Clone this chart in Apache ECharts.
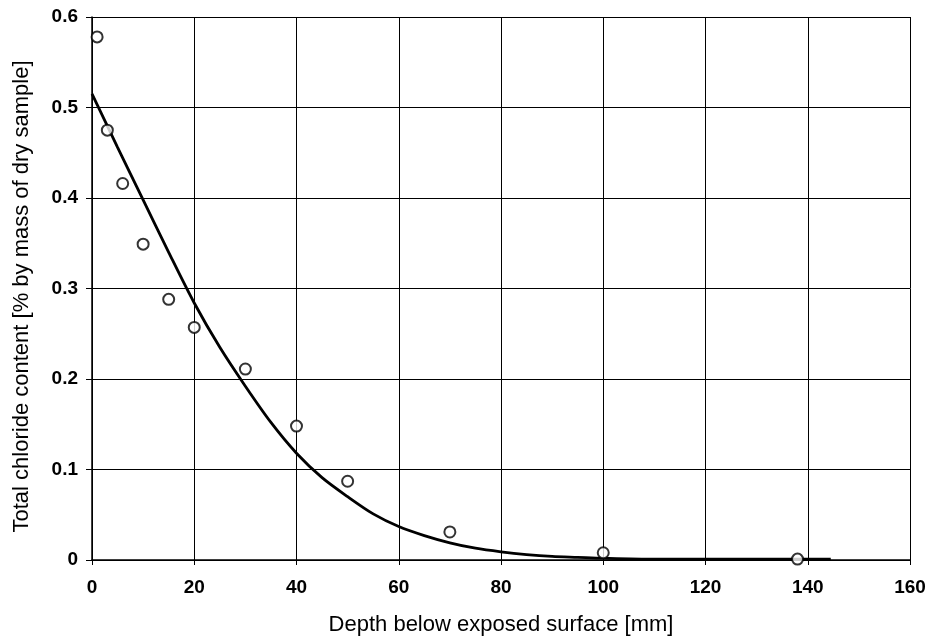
<!DOCTYPE html>
<html>
<head>
<meta charset="utf-8">
<script src="https://cdn.jsdelivr.net/npm/echarts@6/dist/echarts.min.js"></script>
<style>
html,body{margin:0;padding:0;background:#fff;}
#c{width:934px;height:641px;}
</style>
</head>
<body>
<div id="c"></div>
<script>
// Measured points: depth [mm] and total chloride content [%]
var depthMeasured = [1, 3, 6, 10, 15, 20, 30, 40, 50, 70, 100, 138];
var chlorideMeasured = [0.578, 0.475, 0.416, 0.349, 0.288, 0.257, 0.211, 0.148, 0.087, 0.031, 0.008, 0.001];

// Fitted curve
var depthFit = [0, 5, 10, 15, 20, 25, 30, 35, 40, 45, 50, 55, 60, 65, 70, 75, 80, 85, 90, 95, 100, 110, 120, 130, 144.5];
var chlorideFit = [0.515, 0.456, 0.398, 0.340, 0.284, 0.235, 0.192, 0.152, 0.118, 0.091, 0.070, 0.051, 0.037, 0.027, 0.019, 0.013, 0.009, 0.006, 0.004, 0.003, 0.002, 0.001, 0.001, 0.001, 0.001];

var xTicks = [0, 20, 40, 60, 80, 100, 120, 140, 160];
var yTicks = [0, 0.1, 0.2, 0.3, 0.4, 0.5, 0.6];

function zip(a, b) { return a.map(function (v, i) { return [v, b[i]]; }); }

var chart = echarts.init(document.getElementById('c'), null, {renderer: 'canvas'});
var font = 'Liberation Sans, Arial, Helvetica, sans-serif';
chart.setOption({
  animation: false,
  backgroundColor: '#fff',
  grid: {left: 92, right: 24, top: 17, bottom: 81, containLabel: false},
  xAxis: {
    type: 'value',
    min: xTicks[0], max: xTicks[xTicks.length - 1], interval: 20,
    name: 'Depth below exposed surface [mm]',
    nameLocation: 'middle',
    nameGap: 54,
    nameTextStyle: {color: '#000', fontFamily: font, fontSize: 22},
    axisLine: {show: true, onZero: false, lineStyle: {color: '#000', width: 1.5}},
    axisTick: {show: true, inside: false, length: 5, lineStyle: {color: '#000', width: 1}},
    axisLabel: {color: '#000', fontFamily: font, fontSize: 19, fontWeight: 'bold', margin: 18},
    splitLine: {show: true, lineStyle: {color: '#000', width: 1}}
  },
  yAxis: {
    type: 'value',
    min: yTicks[0], max: yTicks[yTicks.length - 1], interval: 0.1,
    name: 'Total chloride content [% by mass of dry sample]',
    nameLocation: 'middle',
    nameGap: 59,
    nameTextStyle: {color: '#000', fontFamily: font, fontSize: 22, padding: [0, 16, 0, 0]},
    axisLine: {show: true, lineStyle: {color: '#000', width: 1.5}},
    axisTick: {show: true, inside: false, length: 6, lineStyle: {color: '#000', width: 1}},
    axisLabel: {color: '#000', fontFamily: font, fontSize: 19, fontWeight: 'bold', margin: 14},
    splitLine: {show: true, lineStyle: {color: '#000', width: 1}}
  },
  series: [
    {
      type: 'line',
      data: zip(depthFit, chlorideFit),
      smooth: 0.3,
      showSymbol: false,
      lineStyle: {color: '#000', width: 2.8},
      z: 3
    },
    {
      type: 'scatter',
      data: zip(depthMeasured, chlorideMeasured),
      symbol: 'circle',
      symbolSize: 11,
      itemStyle: {color: '#fff', borderColor: '#000', borderWidth: 2},
      z: 4
    }
  ]
});
</script>
</body>
</html>
